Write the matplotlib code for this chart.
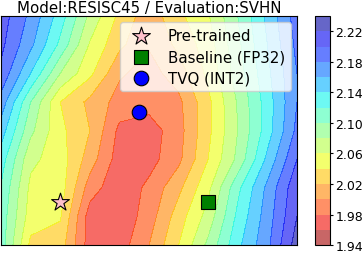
import numpy as np
import matplotlib
matplotlib.use('Agg')
import matplotlib.pyplot as plt

# grid coordinates (pre-trained at (0, 0), baseline at (1, 0))
xs = [-0.4, -0.2, 0.0, 0.2, 0.4, 0.6, 0.8, 1.0, 1.2, 1.4, 1.6]
ys = [-0.3, -0.1, 0.1, 0.3, 0.5, 0.7, 0.9, 1.1, 1.3]

# loss values, rows from bottom (y=-0.3) to top (y=1.3)
loss = [
    [2.110, 2.035, 2.030, 1.970, 1.970, 2.000, 2.040, 2.085, 2.135, 2.175, 2.230],
    [2.112, 2.050, 2.042, 1.970, 1.965, 1.990, 2.030, 2.068, 2.125, 2.170, 2.220],
    [2.118, 2.055, 2.050, 1.990, 1.965, 1.985, 2.015, 2.055, 2.115, 2.165, 2.215],
    [2.130, 2.065, 2.050, 2.010, 1.970, 1.972, 1.995, 2.040, 2.085, 2.145, 2.200],
    [2.150, 2.085, 2.045, 2.020, 1.975, 1.970, 1.992, 2.035, 2.080, 2.130, 2.185],
    [2.172, 2.100, 2.040, 2.015, 1.992, 1.988, 1.995, 2.035, 2.082, 2.130, 2.180],
    [2.195, 2.140, 2.080, 2.045, 2.003, 1.992, 2.010, 2.045, 2.090, 2.135, 2.180],
    [2.205, 2.165, 2.115, 2.058, 2.025, 2.002, 2.025, 2.050, 2.095, 2.140, 2.185],
    [2.210, 2.175, 2.130, 2.075, 2.035, 2.008, 2.035, 2.058, 2.100, 2.145, 2.190],
]

levels = np.arange(1.94, 2.2401, 0.02)
cbar_ticks = [1.94, 1.98, 2.02, 2.06, 2.10, 2.14, 2.18, 2.22]

pretrained = (0.0, 0.0)
baseline = (1.0, 0.0)
tvq = (0.53, 0.63)

X, Y = np.meshgrid(xs, ys)
Z = np.array(loss)

fig = plt.figure(figsize=(3.63, 2.55), dpi=100)
ax = fig.add_axes([0.003, 0.035, 0.815, 0.898])
cax = fig.add_axes([0.868, 0.035, 0.041, 0.898])

cs = ax.contourf(X, Y, Z, levels=levels, cmap='jet_r', alpha=0.6)
ax.scatter(*pretrained, marker='*', s=180, c='pink', edgecolors='black', linewidths=0.8, label='Pre-trained', zorder=3)
ax.scatter(*baseline, marker='s', s=90, c='green', edgecolors='black', linewidths=0.8, label='Baseline (FP32)', zorder=3)
ax.scatter(*tvq, marker='o', s=110, c='blue', edgecolors='black', linewidths=0.8, label='TVQ (INT2)', zorder=3)
ax.set_xlim(xs[0], xs[-1])
ax.set_ylim(ys[0], ys[-1])
ax.set_xticks([])
ax.set_yticks([])
ax.set_title('Model:RESISC45 / Evaluation:SVHN', fontsize=10.8, pad=3)
ax.legend(loc='upper right', fontsize=10.8, labelspacing=0.4, borderaxespad=0.4)

cb = fig.colorbar(cs, cax=cax)
cb.set_ticks(cbar_ticks)
cb.ax.tick_params(labelsize=9, length=2.5, pad=1.5)

fig.savefig('out.png', dpi=100)
